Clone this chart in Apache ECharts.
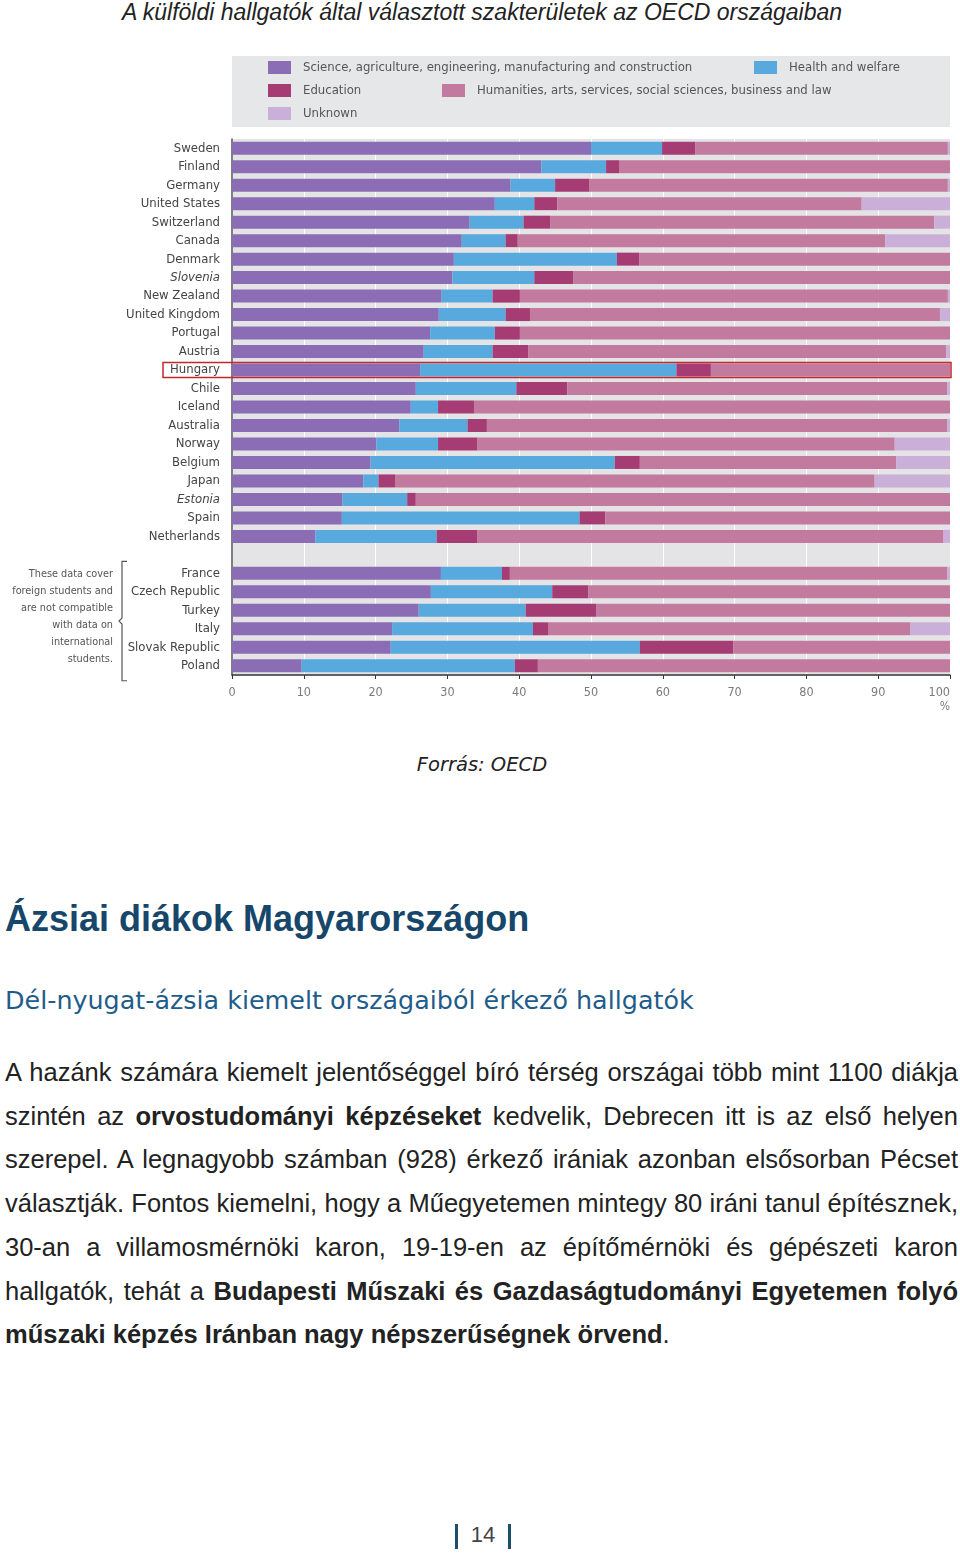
<!DOCTYPE html>
<html>
<head>
<meta charset="utf-8">
<script src="https://cdn.jsdelivr.net/npm/echarts@6/dist/echarts.min.js"></script>
<style>
  html, body { margin:0; padding:0; background:#fff; }
  body { width:960px; height:1555px; position:relative; overflow:hidden; font-family:"Liberation Sans", Arial, sans-serif; }
  #title { position:absolute; top:-2px; left:0; width:964px; text-align:center; font-style:italic; font-size:23px; line-height:28px; color:#222; }
  #chart { position:absolute; top:0; left:0; width:960px; height:740px; }
  #source { position:absolute; top:753px; left:0; width:964px; text-align:center; font-family:"DejaVu Sans", sans-serif; font-style:italic; font-size:19.5px; color:#222; }
  #h1 { position:absolute; top:898px; left:5px; font-weight:bold; font-size:36px; color:#17466b; white-space:nowrap; }
  #h2 { position:absolute; top:985px; left:5px; font-family:"DejaVu Sans", sans-serif; font-size:25.4px; color:#1f5c8a; white-space:nowrap; }
  #para { position:absolute; top:1051px; left:5px; width:953px; font-size:25.5px; line-height:43.7px; color:#222; }
  #para div { text-align:justify; text-align-last:justify; white-space:nowrap; }
  #para div.last { text-align-last:left; }
  #pg { position:absolute; top:1522px; left:0; width:966px; text-align:center; font-size:22px; color:#444; }
  #pg span.bar { display:inline-block; width:2.5px; height:25px; background:#1d4e6d; vertical-align:middle; margin:0 13px; }
</style>
</head>
<body>
<div id="title">A külföldi hallgatók által választott szakterületek az OECD országaiban</div>
<div id="chart"></div>
<div id="source">Forrás: OECD</div>
<div id="h1">Ázsiai diákok Magyarországon</div>
<div id="h2">Dél-nyugat-ázsia kiemelt országaiból érkező hallgatók</div>
<div id="para">
  <div>A hazánk számára kiemelt jelentőséggel bíró térség országai több mint 1100 diákja</div>
  <div>szintén az <b>orvostudományi képzéseket</b> kedvelik, Debrecen itt is az első helyen</div>
  <div>szerepel. A legnagyobb számban (928) érkező irániak azonban elsősorban Pécset</div>
  <div>választják. Fontos kiemelni, hogy a Műegyetemen mintegy 80 iráni tanul építésznek,</div>
  <div>30-an a villamosmérnöki karon, 19-19-en az építőmérnöki és gépészeti karon</div>
  <div>hallgatók, tehát a <b>Budapesti Műszaki és Gazdaságtudományi Egyetemen folyó</b></div>
  <div class="last"><b>műszaki képzés Iránban nagy népszerűségnek örvend</b>.</div>
</div>
<div id="pg"><span class="bar"></span>14<span class="bar"></span></div>
<script>
// ---- data ----
const categories = ['Sweden','Finland','Germany','United States','Switzerland','Canada','Denmark','Slovenia','New Zealand','United Kingdom','Portugal','Austria','Hungary','Chile','Iceland','Australia','Norway','Belgium','Japan','Estonia','Spain','Netherlands','','France','Czech Republic','Turkey','Italy','Slovak Republic','Poland'];
const seriesNames = ['Science, agriculture, engineering, manufacturing and construction','Health and welfare','Education','Humanities, arts, services, social sciences, business and law','Unknown'];
const science    = [50.0,43.1,38.8,36.6,33.1,32.0,30.9,30.7,29.2,28.8,27.6,26.7,26.2,25.6,24.9,23.3,20.1,19.3,18.3,15.4,15.3,11.6,null,29.1,27.7,26.0,22.3,22.1,9.7];
const health     = [9.9,9.0,6.2,5.5,7.5,6.1,22.7,11.4,7.1,9.3,9.0,9.6,35.7,14.0,3.8,9.5,8.6,34.0,2.1,9.0,33.1,16.9,null,8.5,16.9,14.9,19.6,34.7,29.7];
const education  = [4.6,1.8,4.8,3.2,3.7,1.7,3.1,5.4,3.8,3.4,3.5,5.0,4.8,7.1,5.0,2.7,5.5,3.5,2.3,1.2,3.6,5.7,null,1.1,5.0,9.8,2.2,13.0,3.2];
const humanities = [35.2,46.1,49.9,42.4,53.5,51.2,43.3,52.5,59.6,57.1,59.9,58.2,33.3,52.9,66.3,64.1,58.1,35.7,66.8,74.4,48.0,64.9,null,60.9,50.4,49.3,50.4,30.2,57.4];
const unknown    = [0.3,0,0.3,12.3,2.2,9.0,0,0,0.3,1.4,0,0.5,0,0.4,0,0.4,7.7,7.5,10.5,0,0,0.9,null,0.4,0,0,5.5,0,0];
const xTicks = [0,10,20,30,40,50,60,70,80,90,100];
const italicCountries = ['Slovenia','Estonia'];
const highlighted = 'Hungary';
const noteLines = ['These data cover','foreign students and','are not compatible','with data on','international','students.'];
const colors = ['#8a6db5','#58a9dd','#a53c73','#c27b9f','#cab0d8'];

(function(){
const narrow = '"DejaVu Sans Condensed","Liberation Sans Narrow",sans-serif';
const chart = echarts.init(document.getElementById('chart'), null, {renderer:'canvas'});
const values = [science, health, education, humanities, unknown];

const legendPos = [[268,61],[754,61],[268,84],[442,84],[268,107]];
const legends = seriesNames.map((n,i)=>({
  data:[n], left:legendPos[i][0], top:legendPos[i][1], orient:'horizontal',
  itemWidth:23, itemHeight:13, icon:'rect', padding:0, z:10, selectedMode:false,
  textStyle:{fontFamily:narrow, fontSize:13, color:'#555', padding:[0,0,0,7]}
}));

chart.setOption({
  animation:false,
  color: colors,
  legend: legends,
  grid: {left:232, right:10, top:139, bottom:65, outerBoundsMode:'none', containLabel:false,
         show:true, backgroundColor:'#e4e4e6', borderWidth:0},
  xAxis: {
    type:'value', min:xTicks[0], max:xTicks[xTicks.length-1], interval:10,
    axisLine:{show:true, lineStyle:{color:'#333', width:1.5}},
    axisTick:{show:true, length:4, lineStyle:{color:'#333'}},
    splitLine:{show:true, lineStyle:{color:'#ffffff', width:1}},
    axisLabel:{fontFamily:narrow, fontSize:12.5, color:'#7a7a7a', margin:11, alignMaxLabel:'right',
      formatter:v=> v===100 ? '100\n{p|%}' : String(v),
      rich:{p:{fontFamily:narrow, fontSize:12, color:'#7a7a7a', padding:[2,0,0,0]}}}
  },
  yAxis: {
    type:'category', inverse:true, data:categories,
    axisLine:{show:true, lineStyle:{color:'#555', width:1.5}},
    axisTick:{show:false},
    axisLabel:{interval:0, fontFamily:narrow, fontSize:13, color:'#444', margin:12,
      formatter:v=> italicCountries.indexOf(v)>=0 ? '{it|'+v+'}' : v,
      rich:{it:{fontFamily:narrow, fontSize:13, color:'#444', fontStyle:'italic'}}}
  },
  series: seriesNames.map((n,i)=>({
    name:n, type:'bar', stack:'total', barWidth:13, data:values[i],
    itemStyle:{color:colors[i]}
  }))
});

const yH = chart.convertToPixel({yAxisIndex:0}, highlighted);
const yF = chart.convertToPixel({yAxisIndex:0}, 'France');
const yP = chart.convertToPixel({yAxisIndex:0}, 'Poland');
const x0 = chart.convertToPixel({xAxisIndex:0}, 0);
const x100 = chart.convertToPixel({xAxisIndex:0}, 100);
const bTop = yF - 12, bBot = yP + 15, bMid = (bTop+bBot)/2;
const bx = x0 - 110;
const graphics = [
  {type:'rect', z:0, shape:{x:x0, y:56, width:x100-x0, height:71}, style:{fill:'#e6e7e8'}},
  {type:'rect', z:20, shape:{x:x0-69, y:yH-7.5, width:x100-x0+70, height:15}, style:{fill:'none', stroke:'#c0282d', lineWidth:1.5}},
  {type:'polyline', z:20, shape:{points:[[bx+5,bTop],[bx,bTop],[bx,bMid-3],[bx-3,bMid],[bx,bMid+3],[bx,bBot],[bx+5,bBot]]}, style:{fill:'none', stroke:'#555', lineWidth:1.2}}
];
const lh = 17;
noteLines.forEach((t,i)=>{
  graphics.push({type:'text', z:20, x:bx-9, y:yF + 1 + i*lh,
    style:{text:t, fontFamily:narrow, fontSize:10.8, fill:'#555', align:'right', verticalAlign:'middle'}});
});
chart.setOption({graphic:graphics});
})();
</script>
</body>
</html>
